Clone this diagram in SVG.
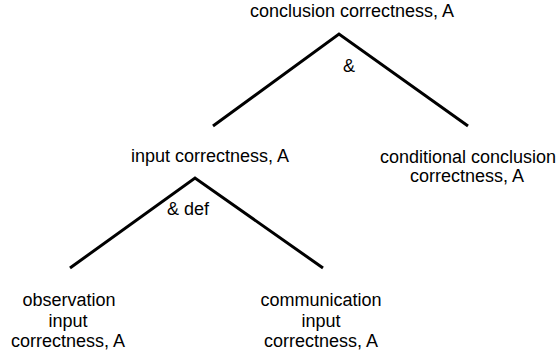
<svg xmlns="http://www.w3.org/2000/svg" width="556" height="354" viewBox="0 0 556 354">
  <style>
    .label { font-family: "Liberation Sans", Arial, sans-serif; font-size: 18px; fill: #000; text-anchor: middle; }
    .branch { fill: none; stroke: #000; stroke-width: 3; stroke-linejoin: miter; }
  </style>
  <rect width="556" height="354" fill="#fff"/>

  <!-- connectors: and-branches of the argument tree -->
  <g id="connectors">
    <polyline class="branch" points="213,126 339,34 468,126"/>
    <polyline class="branch" points="70,268 195,178 323,268"/>
    <text class="label" x="349" y="72">&amp;</text>
    <text class="label" x="188" y="215">&amp; def</text>
  </g>

  <g id="conclusion">
    <text class="label" x="352" y="17">conclusion correctness, A</text>
  </g>

  <g id="input">
    <text class="label" x="210" y="162">input correctness, A</text>
  </g>

  <g id="conditional">
    <text class="label" x="468" y="163">conditional conclusion</text>
    <text class="label" x="467" y="182">correctness, A</text>
  </g>

  <g id="observation">
    <text class="label" x="69" y="306">observation</text>
    <text class="label" x="68" y="327">input</text>
    <text class="label" x="68" y="347">correctness, A</text>
  </g>

  <g id="communication">
    <text class="label" x="321" y="306">communication</text>
    <text class="label" x="321" y="327">input</text>
    <text class="label" x="321" y="347">correctness, A</text>
  </g>
</svg>
